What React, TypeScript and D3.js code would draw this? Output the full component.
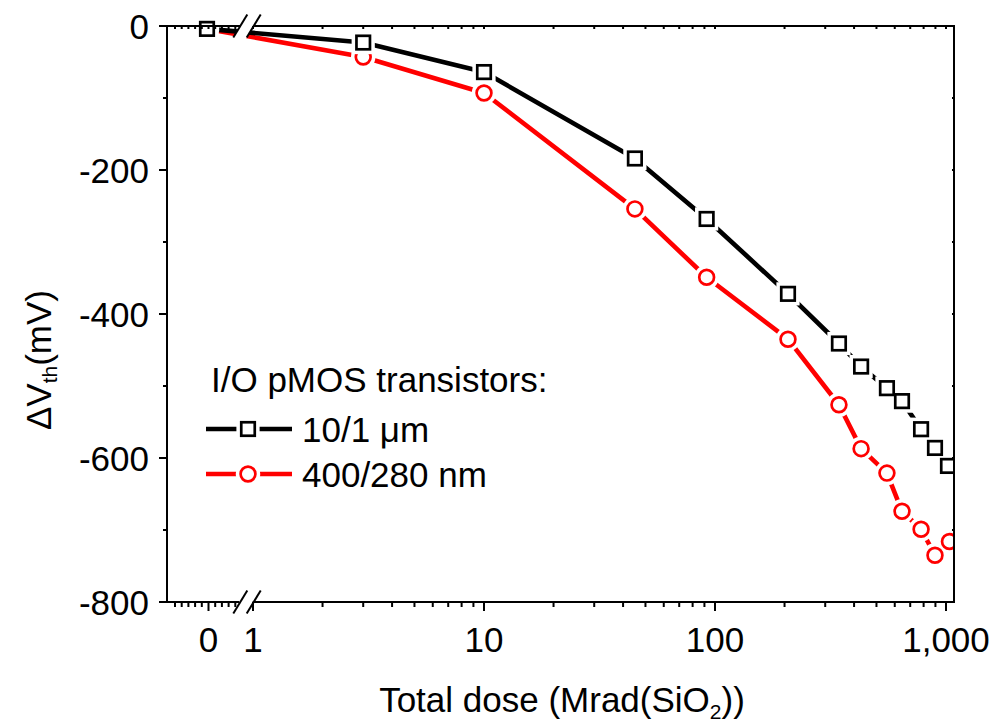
import React from "react";
import * as d3 from "d3";

// ---- data ----
const blackDose = [0, 3, 10, 45, 92, 207, 344, 429, 555, 645, 780, 896, 1020];
const blackDV = [-4, -23, -64, -184, -268, -372, -441, -473, -503, -521, -560, -586, -611];
const redDose = [0, 3, 10, 45, 92, 207, 344, 429, 555, 645, 780, 896, 1035];
const redDV = [-4, -43, -93, -254, -349, -435, -526, -587, -621, -674, -699, -735, -716];

const yTicks = [0, -200, -400, -600, -800];
const yMinor = [-100, -300, -500, -700];
const logMajor = [1, 10, 100, 1000];
const logMajorLabels = ["1", "10", "100", "1,000"];
const leftMinor = [-1.0, -0.8, -0.6, -0.4, -0.2, 0.2, 0.4, 0.6, 0.8];

const legendTitle = "I/O pMOS transistors:";
const seriesNames = ["10/1 \u03bcm", "400/280 nm"];

const W = 993;
const H = 722;
const X0 = 167;
const X1 = 954;
const Y0 = 26;
const Y1 = 602;
const FONT = "'Liberation Sans', Arial, Helvetica, sans-serif";
const FS = 35;

export default function App() {
  const y = d3.scaleLinear().domain([0, -800]).range([Y0, Y1]);
  const xLeft = d3.scaleLinear().domain([-1.2, 1]).range([168.3, 242]);
  const xLog = d3.scaleLog().domain([1, 1083]).range([253, X1]);
  const xPos = (d: number) => (d === 0 ? xLeft(0) - 1.5 : xLog(d));

  const logMinor: number[] = [];
  [1, 10, 100].forEach((dec) => {
    for (let k = 2; k <= 9; k++) logMinor.push(dec * k);
  });

  const line = d3
    .line<[number, number]>()
    .x((d) => xPos(d[0]))
    .y((d) => y(d[1]));

  const blackPts: [number, number][] = blackDose.map((d, i) => [d, blackDV[i]]);
  const redPts: [number, number][] = redDose.map((d, i) => [d, redDV[i]]);

  const SQ = 13.5;
  const R = 7.4;
  const MSW = 2.7;
  const LW = 4.6;

  const square = (cx: number, cy: number, key: string, halo: boolean) => (
    <rect
      key={key}
      x={cx - SQ / 2}
      y={cy - SQ / 2}
      width={SQ}
      height={SQ}
      fill="white"
      stroke={halo ? "white" : "black"}
      strokeWidth={halo ? MSW + 7 : MSW}
    />
  );
  const circle = (cx: number, cy: number, key: string, halo: boolean) => (
    <circle
      key={key}
      cx={cx}
      cy={cy}
      r={R}
      fill="white"
      stroke={halo ? "white" : "#ff0000"}
      strokeWidth={halo ? MSW + 7 : MSW}
    />
  );

  // break region between the two slashes
  const bx1 = 240.3;
  const bx2 = 253.7;
  const slope = 7 / 11.5; // dx per dy

  const slash = (cx: number, cy: number, key: string) => (
    <line
      key={key}
      x1={cx - 11.5 * slope}
      y1={cy + 11.5}
      x2={cx + 11.5 * slope}
      y2={cy - 11.5}
      stroke="black"
      strokeWidth={2}
    />
  );

  // legend
  const legX1 = 206;
  const legX2 = 292;
  const legMid = 248;
  const legRows = [429, 474];

  return (
    <svg width={W} height={H} style={{ position: "absolute", left: 0, top: 0, background: "white" }}>
      <defs>
        <clipPath id="plotClip">
          <rect x={0} y={0} width={X1} height={H} />
        </clipPath>
      </defs>
      <rect x={0} y={0} width={W} height={H} fill="white" />

      <g clipPath="url(#plotClip)">
        <path d={line(redPts) || ""} fill="none" stroke="#ff0000" strokeWidth={LW} strokeLinejoin="round" />
        <path d={line(blackPts) || ""} fill="none" stroke="black" strokeWidth={LW} strokeLinejoin="round" />
        {redPts.map((p, i) => circle(xPos(p[0]), y(p[1]), "rh" + i, true))}
        {redPts.map((p, i) => circle(xPos(p[0]), y(p[1]), "r" + i, false))}
        {blackPts.map((p, i) => square(xPos(p[0]), y(p[1]), "bh" + i, true))}
        {blackPts.map((p, i) => square(xPos(p[0]), y(p[1]), "b" + i, false))}
      </g>

      {/* break gap */}
      <path d={`M${bx1 + 12 * slope},${Y0 - 12} L${bx2 + 12 * slope},${Y0 - 12} L${bx2 - (Y1 + 12 - Y0) * slope},${Y1 + 12} L${bx1 - (Y1 + 12 - Y0) * slope},${Y1 + 12} Z`} fill="white" />

      {/* frame */}
      <g stroke="black" strokeWidth={2} fill="none">
        <line x1={X0} y1={Y0 - 1} x2={X0} y2={Y1 + 1} />
        <line x1={X1} y1={Y0 - 1} x2={X1} y2={Y1 + 1} />
        <line x1={X0} y1={Y0} x2={bx1 + 0.5} y2={Y0} />
        <line x1={bx2 - 0.5} y1={Y0} x2={X1 + 1} y2={Y0} />
        <line x1={X0} y1={Y1} x2={bx1 - 1} y2={Y1} />
        <line x1={bx2 - 1} y1={Y1} x2={X1 + 1} y2={Y1} />
      </g>

      {/* y ticks */}
      <g stroke="black" strokeWidth={2}>
        {yTicks.map((t) => (
          <line key={"yt" + t} x1={X0 - 8} x2={X0} y1={y(t)} y2={y(t)} />
        ))}
        {yMinor.map((t) => (
          <line key={"ym" + t} x1={X0 - 4} x2={X0} y1={y(t)} y2={y(t)} />
        ))}
        {yMinor.concat(yTicks).map((t) => (
          <line key={"yr" + t} x1={X1 - 2} x2={X1} y1={y(t)} y2={y(t)} />
        ))}
      </g>

      {/* x ticks, bottom (outward) and top (inward, tiny) */}
      <g stroke="black" strokeWidth={2}>
        <line x1={xLeft(0)} x2={xLeft(0)} y1={Y1} y2={Y1 + 9} />
        {leftMinor.map((t) => (
          <line key={"lm" + t} x1={xLeft(t)} x2={xLeft(t)} y1={Y1} y2={Y1 + 5} />
        ))}
        {logMajor.map((t) => (
          <line key={"xM" + t} x1={xLog(t)} x2={xLog(t)} y1={Y1} y2={Y1 + 9} />
        ))}
        {logMinor.map((t) => (
          <line key={"xm" + t} x1={xLog(t)} x2={xLog(t)} y1={Y1} y2={Y1 + 5} />
        ))}
        {leftMinor.concat([0]).map((t) => (
          <line key={"tl" + t} x1={xLeft(t)} x2={xLeft(t)} y1={Y0} y2={Y0 + 3} />
        ))}
        {logMinor.concat(logMajor).map((t) => (
          <line key={"tx" + t} x1={xLog(t)} x2={xLog(t)} y1={Y0} y2={Y0 + 3} />
        ))}
      </g>

      {/* axis break slashes */}
      {slash(bx1, Y0, "s1")}
      {slash(bx2, Y0, "s2")}
      {slash(bx1, Y1, "s3")}
      {slash(bx2, Y1, "s4")}

      {/* tick labels */}
      <g fontFamily={FONT} fontSize={FS} fill="black">
        {yTicks.map((t) => (
          <text key={"yl" + t} x={149} y={y(t) + FS * 0.36} textAnchor="end">
            {String(t)}
          </text>
        ))}
        <text x={xLeft(0)} y={652} textAnchor="middle">0</text>
        {logMajor.map((t, i) => (
          <text key={"xl" + t} x={xLog(t)} y={652} textAnchor="middle">
            {logMajorLabels[i]}
          </text>
        ))}
      </g>

      {/* axis titles */}
      <text x={562} y={712} fontFamily={FONT} fontSize={FS} textAnchor="middle">
        Total dose (Mrad(SiO<tspan fontSize={FS * 0.6} dy={7}>2</tspan><tspan dy={-7}>))</tspan>
      </text>
      <text
        transform={`translate(51, 360) rotate(-90)`}
        fontFamily={FONT}
        fontSize={FS}
        textAnchor="middle"
      >
        {"\u0394V"}<tspan fontSize={FS * 0.6} dy={6}>th</tspan><tspan dy={-6}>(mV)</tspan>
      </text>

      {/* legend */}
      <text x={211} y={392} fontFamily={FONT} fontSize={FS}>{legendTitle}</text>
      <g>
        <line x1={legX1} x2={legX2} y1={legRows[0]} y2={legRows[0]} stroke="black" strokeWidth={LW} />
        {square(legMid, legRows[0], "lh0", true)}
        {square(legMid, legRows[0], "l0", false)}
        <line x1={legX1} x2={legX2} y1={legRows[1]} y2={legRows[1]} stroke="#ff0000" strokeWidth={LW} />
        {circle(legMid, legRows[1], "lh1", true)}
        {circle(legMid, legRows[1], "l1", false)}
        <text x={302} y={442} fontFamily={FONT} fontSize={FS}>{seriesNames[0]}</text>
        <text x={302} y={487} fontFamily={FONT} fontSize={FS}>{seriesNames[1]}</text>
      </g>
    </svg>
  );
}
